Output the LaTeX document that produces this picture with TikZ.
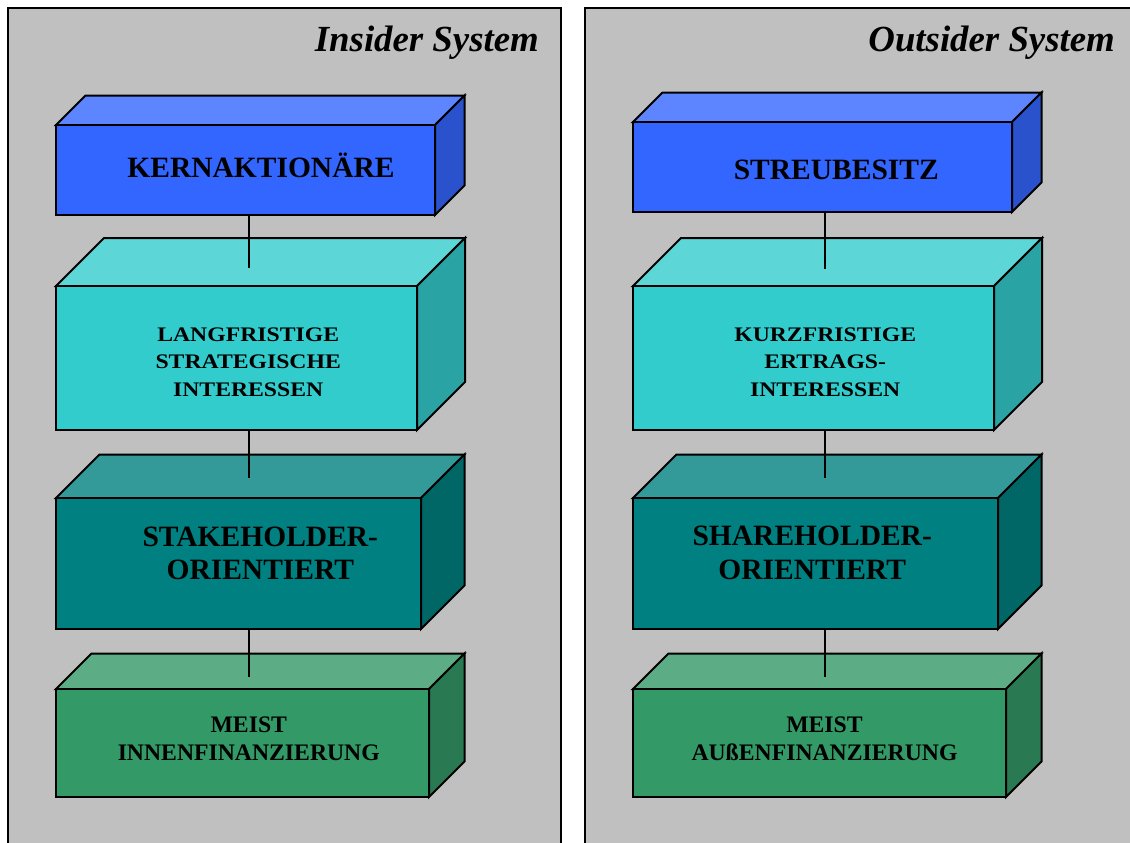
\documentclass[tikz,border=0pt]{standalone}
\usepackage{fontspec}
\setmainfont{Liberation Serif}
\newfontfamily\widefont[FakeStretch=1.145]{Liberation Serif}
\usetikzlibrary{calc}
\definecolor{panelgray}{HTML}{C0C0C0}
\definecolor{aFront}{HTML}{3366FF}\definecolor{aTop}{HTML}{5C85FF}\definecolor{aSide}{HTML}{2952CC}
\definecolor{bFront}{HTML}{33CCCC}\definecolor{bTop}{HTML}{5CD6D6}\definecolor{bSide}{HTML}{29A3A3}
\definecolor{cFront}{HTML}{008080}\definecolor{cTop}{HTML}{339999}\definecolor{cSide}{HTML}{006666}
\definecolor{dFront}{HTML}{339966}\definecolor{dTop}{HTML}{5CAD85}\definecolor{dSide}{HTML}{297A52}
% #1 name, #2 x0, #3 ytop, #4 x1, #5 ybot, #6 depth, #7 front, #8 top, #9 side
\newcommand{\mkcube}[9]{%
  \path[fill=#8, edgeline] (#2,#3) -- (#2+#6,#3-#6) -- (#4+#6,#3-#6) -- (#4,#3) -- cycle;
  \path[fill=#9, edgeline] (#4,#3) -- (#4+#6,#3-#6) -- (#4+#6,#5-#6) -- (#4,#5) -- cycle;
  \node[facebox, fill=#7, minimum width={(#4-#2)*1pt}, minimum height={(#5-#3)*1pt}]
    (#1) at ({(#2+#4)/2},{(#3+#5)/2}) {};%
}
\begin{document}
\begin{tikzpicture}[x=1pt,y=-1pt,
  edgeline/.style={draw=black, line width=2pt, line join=miter},
  facebox/.style={draw=black, line width=2pt, inner sep=0pt, outer sep=0pt, rectangle},
  panel/.style={fill=panelgray, draw=black, line width=2pt},
  link/.style={draw=black, line width=2pt},
  title/.style={inner sep=0pt, anchor=base east, font=\bfseries\itshape\fontsize{36.8}{40}\selectfont},
  biglbl/.style={inner sep=0pt, align=center, font=\bfseries\fontsize{29.5}{33.3}\selectfont},
  midlbl/.style={inner sep=0pt, align=center, font=\widefont\bfseries\fontsize{20.7}{27.2}\selectfont},
  smalllbl/.style={inner sep=0pt, align=center, font=\bfseries\fontsize{23.7}{28.7}\selectfont}]
\useasboundingbox (0,0) rectangle (1130,843);
\clip (0,0) rectangle (1130,843);
% panels
\path[panel] (8,8) rectangle (561,870);
\path[panel] (585,8) rectangle (1140,870);
\node[title] (tl) at (539,51.7) {Insider System};
\node[title] (tr) at (1115,51.7) {Outsider System};
% left cubes
\mkcube{L1}{56}{125}{435}{215}{29.5}{aFront}{aTop}{aSide}
\mkcube{L2}{56}{286}{417}{430}{48}{bFront}{bTop}{bSide}
\mkcube{L3}{56}{498}{421}{629}{43.5}{cFront}{cTop}{cSide}
\mkcube{L4}{56}{689}{429}{797}{35.5}{dFront}{dTop}{dSide}
% right cubes
\mkcube{R1}{633}{122}{1012}{212}{29.5}{aFront}{aTop}{aSide}
\mkcube{R2}{633}{286}{994}{430}{48}{bFront}{bTop}{bSide}
\mkcube{R3}{633}{498}{998}{629}{43.5}{cFront}{cTop}{cSide}
\mkcube{R4}{633}{689}{1006}{797}{35.5}{dFront}{dTop}{dSide}
% labels
\node[biglbl, anchor=base] (tL1) at (261,177.7) {KERNAKTIONÄRE};
\node[midlbl] (tL2) at (248.2,362.2) {LANGFRISTIGE\\STRATEGISCHE\\INTERESSEN};
\node[biglbl] (tL3) at (260.3,553.3) {STAKEHOLDER-\\ORIENTIERT};
\node[smalllbl] (tL4) at (248.8,738.7) {MEIST\\INNENFINANZIERUNG};
\node[biglbl, anchor=base] (tR1) at (836.3,179.3) {STREUBESITZ};
\node[midlbl] (tR2) at (825.2,362.2) {KURZFRISTIGE\\ERTRAGS-\\INTERESSEN};
\node[biglbl] (tR3) at (812.2,553.0) {SHAREHOLDER-\\ORIENTIERT};
\node[smalllbl] (tR4) at (824.5,738.7) {MEIST\\AUßENFINANZIERUNG};
% connector ends on the top faces
\coordinate (eL2) at (249,268);
\coordinate (eL3) at (249,478);
\coordinate (eL4) at (249,677);
\coordinate (eR2) at (825.3,269);
\coordinate (eR3) at (825.3,478);
\coordinate (eR4) at (825.3,677);
\draw[link] (eL2 |- L1.south) -- (eL2);
\draw[link] (eL3 |- L2.south) -- (eL3);
\draw[link] (eL4 |- L3.south) -- (eL4);
\draw[link] (eR2 |- R1.south) -- (eR2);
\draw[link] (eR3 |- R2.south) -- (eR3);
\draw[link] (eR4 |- R3.south) -- (eR4);
\end{tikzpicture}
\end{document}
